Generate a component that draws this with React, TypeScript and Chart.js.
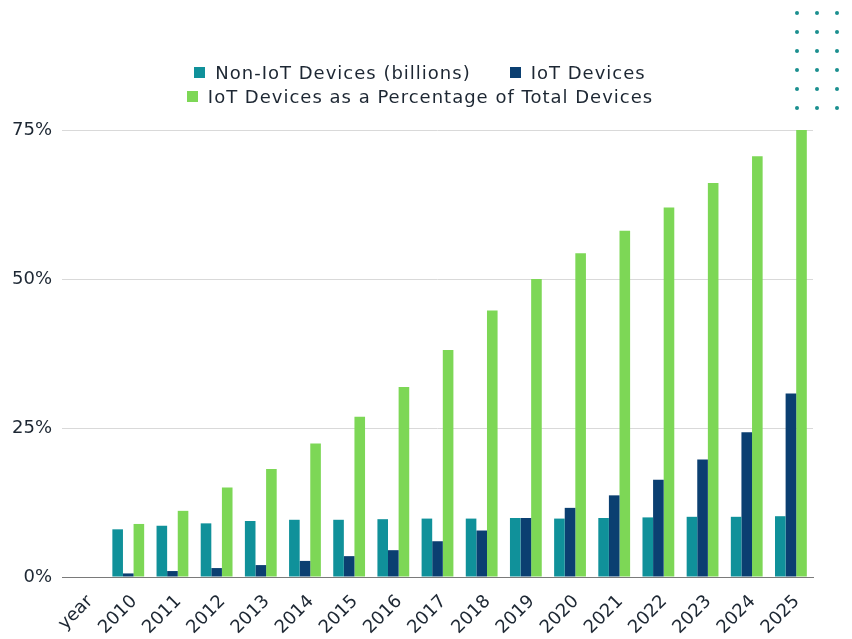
import React, { useEffect, useRef } from "react";
import { Chart, registerables } from "chart.js";

Chart.register(...registerables);

const categories = ["year", "2010", "2011", "2012", "2013", "2014", "2015", "2016", "2017", "2018", "2019", "2020", "2021", "2022", "2023", "2024", "2025"];
const nonIoT = [null, 8.0, 8.6, 9.0, 9.4, 9.6, 9.6, 9.7, 9.8, 9.8, 9.9, 9.8, 9.9, 10.0, 10.1, 10.1, 10.2];
const iot = [null, 0.6, 1.0, 1.5, 2.0, 2.7, 3.5, 4.5, 6.0, 7.8, 9.9, 11.6, 13.7, 16.3, 19.7, 24.3, 30.8];
const iotPct = [null, 8.9, 11.1, 15.0, 18.1, 22.4, 26.9, 31.9, 38.1, 44.7, 50.0, 54.3, 58.1, 62.0, 66.1, 70.6, 75.0];
const yTicks = [0, 25, 50, 75];
const seriesLabels = ["Non-IoT Devices (billions)", "IoT Devices", "IoT Devices as a Percentage of Total Devices"];
const seriesColors = ["#10919a", "#0b3f71", "#7dd756"];
const legendRows = [[0, 1], [2]];

const FONT = "'DejaVu Sans', sans-serif";
const TEXT = "#1d2733";

export default function App() {
  const ref = useRef<HTMLCanvasElement>(null);
  useEffect(() => {
    const chart = new Chart(ref.current!, {
      type: "bar",
      data: {
        labels: categories,
        datasets: [
          { label: seriesLabels[0], data: nonIoT, backgroundColor: seriesColors[0] },
          { label: seriesLabels[1], data: iot, backgroundColor: seriesColors[1] },
          { label: seriesLabels[2], data: iotPct, backgroundColor: seriesColors[2] },
        ],
      },
      options: {
        animation: false,
        responsive: false,
        layout: { padding: { top: 130, right: 12, left: 0, bottom: 0 } },
        datasets: { bar: { barPercentage: 1, categoryPercentage: 0.72 } },
        plugins: {
          legend: { display: false },
          tooltip: { enabled: false },
        },
        scales: {
          x: {
            grid: { display: false },
            border: { color: "#7a7a7a", width: 1 },
            ticks: { minRotation: 45, maxRotation: 45, color: TEXT, font: { family: FONT, size: 18 }, padding: 6, labelOffset: 6 },
            afterFit: (s: any) => { s.height = 62; },
          },
          y: {
            min: 0,
            max: 75,
            afterBuildTicks: (s: any) => { s.ticks = yTicks.map((v) => ({ value: v })); },
            grid: { color: (c: any) => (c.tick && c.tick.value === 0 ? "#7a7a7a" : "#d9d9d9"), drawTicks: false },
            border: { display: false },
            ticks: { color: TEXT, padding: 10, font: { family: FONT, size: 18 }, callback: (v: any) => v + "%" },
            afterFit: (s: any) => { s.width = 62; },
          },
          yR: {
            position: "right",
            display: true,
            grid: { display: false },
            border: { display: false },
            ticks: { display: false },
            afterFit: (s: any) => { s.width = 27; },
          },
        },
      },
    });
    return () => chart.destroy();
  }, []);

  const dots = [];
  for (let r = 0; r < 6; r++) {
    for (let c = 0; c < 3; c++) {
      dots.push(
        <div key={r + "-" + c} style={{ position: "absolute", left: 797 + c * 20 - 2, top: 13 + r * 19 - 2, width: 4, height: 4, borderRadius: 2, background: "#1b8f8f" }} />
      );
    }
  }

  return (
    <div style={{ position: "fixed", left: 0, top: 0, width: 852, height: 639, background: "#fff" }}>
      <canvas ref={ref} width={852} height={639} style={{ display: "block" }} />
      <div style={{ position: "absolute", left: 0, top: 60, width: 840, fontFamily: FONT, fontSize: 18, letterSpacing: "1px", color: TEXT }}>
        {legendRows.map((row, ri) => (
          <div key={ri} style={{ display: "flex", justifyContent: "center", alignItems: "center", height: 24, gap: 39 }}>
            {row.map((i) => (
              <div key={i} style={{ display: "flex", alignItems: "center", whiteSpace: "nowrap" }}>
                <span style={{ display: "inline-block", width: 11, height: 11, background: seriesColors[i], marginRight: 10 }} />
                <span>{seriesLabels[i]}</span>
              </div>
            ))}
          </div>
        ))}
      </div>
      {dots}
    </div>
  );
}
